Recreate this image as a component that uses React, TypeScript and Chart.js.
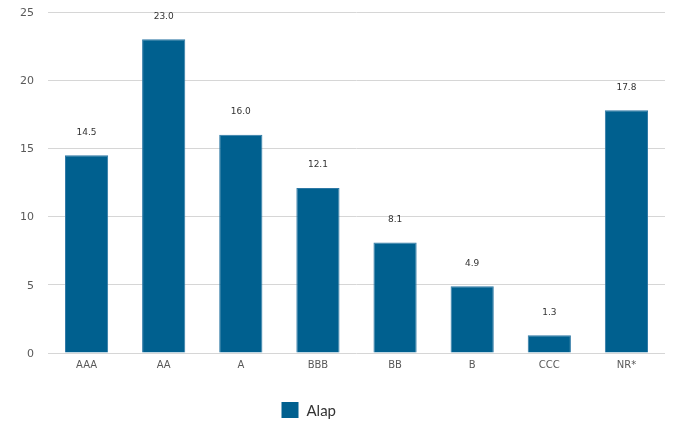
import React, { useEffect, useRef } from "react";
import { Chart, registerables } from "chart.js";

Chart.register(...registerables);

const categories = ["AAA", "AA", "A", "BBB", "BB", "B", "CCC", "NR*"];
const values = [14.5, 23.0, 16.0, 12.1, 8.1, 4.9, 1.3, 17.8];
const seriesName = "Alap";
const yTicks = [0, 5, 10, 15, 20, 25];

const BAR = "#00608f";

const valueLabels = {
  id: "valueLabels",
  afterDatasetsDraw(chart: any) {
    const ctx = chart.ctx;
    const meta = chart.getDatasetMeta(0);
    ctx.save();
    ctx.font = "9px 'DejaVu Sans'";
    ctx.fillStyle = "#333333";
    ctx.textAlign = "center";
    ctx.textBaseline = "middle";
    meta.data.forEach((el: any, i: number) => {
      ctx.fillText(values[i].toFixed(1), el.x, el.y - 23);
    });
    ctx.restore();
  },
};

const customLegend = {
  id: "customLegend",
  afterDraw(chart: any) {
    const ctx = chart.ctx;
    const y = chart.height - 13;
    const x = chart.chartArea.left + (chart.chartArea.right - chart.chartArea.left) / 2 - 75;
    ctx.save();
    ctx.fillStyle = BAR;
    ctx.fillRect(x, y - 8, 17, 16);
    ctx.font = "15px Lato";
    ctx.fillStyle = "#333333";
    ctx.textAlign = "left";
    ctx.textBaseline = "middle";
    ctx.fillText(seriesName, x + 25, y + 1);
    ctx.restore();
  },
};

export default function App() {
  const ref = useRef<HTMLCanvasElement>(null);
  useEffect(() => {
    if (!ref.current) return;
    const chart = new Chart(ref.current, {
      type: "bar",
      data: {
        labels: categories,
        datasets: [
          {
            label: seriesName,
            data: values,
            backgroundColor: BAR,
            borderColor: "#2d78a5",
            borderWidth: 1,
            categoryPercentage: 0.8,
            barPercentage: 0.7,
          },
        ],
      },
      options: {
        animation: false,
        responsive: true,
        maintainAspectRatio: false,
        layout: { padding: { top: 0, right: 0, bottom: 5, left: 0 } },
        plugins: {
          legend: { display: false },
          tooltip: { enabled: false },
        },
        scales: {
          x: {
            grid: { display: false, drawTicks: false },
            border: { display: false },
            ticks: {
              color: "#595959",
              font: { family: "'DejaVu Sans'", size: 10 },
              padding: 6,
              maxRotation: 0,
            },
            afterFit: (s: any) => {
              s.height = 65;
            },
          },
          y: {
            min: 0,
            max: 25,
            afterBuildTicks: (s: any) => {
              s.ticks = yTicks.map((v) => ({ value: v }));
            },
            grid: { color: "#d6d6d6", lineWidth: 1, drawTicks: false },
            border: { display: false },
            ticks: {
              color: "#595959",
              font: { family: "'DejaVu Sans'", size: 11 },
              padding: 14,
              labelOffset: 1,
            },
            afterFit: (s: any) => {
              s.width = 48;
              s.paddingTop = 12;
              s.paddingBottom = 0;
            },
          },
        },
      },
      plugins: [valueLabels, customLegend],
    });
    return () => chart.destroy();
  }, []);
  return (
    <div style={{ width: 665, height: 423, marginTop: -8, marginLeft: -8, position: "relative" }}>
      <canvas ref={ref} />
    </div>
  );
}
